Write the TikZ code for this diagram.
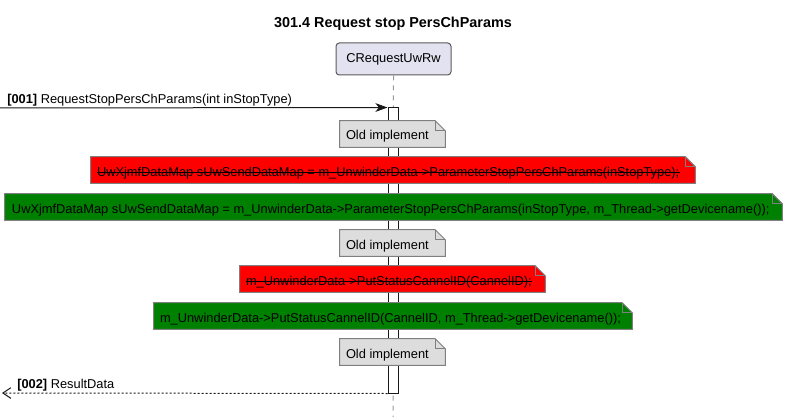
\documentclass[tikz,border=0pt]{standalone}
\usepackage{fontspec}
\setmainfont{Liberation Sans}
\usetikzlibrary{arrows.meta}
\definecolor{partfill}{HTML}{E2E2F0}
\definecolor{partbd}{HTML}{5A5A5A}
\definecolor{notegray}{HTML}{DDDDDD}
\definecolor{notebd}{HTML}{7F7F7F}
\definecolor{notered}{HTML}{FF0000}
\definecolor{notegreen}{HTML}{008000}
\definecolor{lifegray}{HTML}{9A9A9A}
\definecolor{ink}{HTML}{181818}
\newcommand{\noteoutline}[2]{%
  \filldraw[fill=#2, draw=notebd, line width=0.75pt]
    (#1.north west) -- ([xshift=-7.5pt]#1.north east) -- ([yshift=-7.5pt]#1.north east)
    -- (#1.south east) -- (#1.south west) -- cycle;
  \draw[draw=notebd, line width=0.75pt]
    ([xshift=-7.5pt]#1.north east) -- ([xshift=-7.5pt,yshift=-7.5pt]#1.north east)
    -- ([yshift=-7.5pt]#1.north east);
}
\newcommand{\strikeover}[1]{%
  \draw[black, line width=0.75pt] ([yshift=2.6pt]#1.base west) -- ([yshift=2.6pt]#1.base east);
}
\tikzset{
  notearea/.style={draw=none, fill=none, inner sep=0pt, minimum height=19.5pt},
  notetext/.style={inner sep=0pt, anchor=base west, text=black},
  msglabel/.style={inner sep=0pt, anchor=base west, text=black},
}
\begin{document}
\begin{tikzpicture}[x=0.75pt, y=-0.75pt, font=\fontsize{9.63pt}{11.6pt}\selectfont]
\useasboundingbox (0,0) rectangle (788,417);

% title
\node[inner sep=0pt, font=\fontsize{10.8pt}{13pt}\selectfont\bfseries] (title) at (393,24) {301.4 Request stop PersChParams};

% participant
\node[draw=partbd, fill=partfill, line width=0.75pt, rounded corners=2.5pt,
      minimum width=86.25pt, minimum height=24pt, inner sep=0pt] (part) at (393.5,59) {CRequestUwRw};
\coordinate (lifeend) at (393,417);
\draw[lifegray, line width=0.75pt, dash pattern=on 3.75pt off 3.75pt] (part.south) -- (lifeend);

% activation
\node[draw=ink, fill=white, line width=0.75pt, minimum width=7.5pt, minimum height=213.75pt, inner sep=0pt] (act) at (393,250.5) {};

% message 1
\coordinate (m1start) at (0,108);
\draw[ink, line width=0.75pt, -{Stealth[length=9pt, width=6.5pt, inset=2.5pt]}] (m1start) -- (act.north west);
\node[msglabel] (m1label) at (7,104) {\textbf{[001]} RequestStopPersChParams(int inStopType)};

% notes
\node[notearea, minimum width=78.75pt] (n1) at (392.5,134) {};
\noteoutline{n1}{notegray}
\node[notetext] (n1t) at ([xshift=4.5pt]n1.west |- 0,140) {Old implement};

\node[notearea, minimum width=453pt] (n2) at (393,170) {};
\noteoutline{n2}{notered}
\node[notetext] (n2t) at ([xshift=4.5pt]n2.west |- 0,176) {UwXjmfDataMap sUwSendDataMap = m\_UnwinderData->ParameterStopPersChParams(inStopType);};
\strikeover{n2t}

\node[notearea, minimum width=582.75pt] (n3) at (393.5,207) {};
\noteoutline{n3}{notegreen}
\node[notetext] (n3t) at ([xshift=5.25pt]n3.west |- 0,213) {UwXjmfDataMap sUwSendDataMap = m\_UnwinderData->ParameterStopPersChParams(inStopType, m\_Thread->getDevicename());};

\node[notearea, minimum width=78.75pt] (n4) at (392.5,243) {};
\noteoutline{n4}{notegray}
\node[notetext] (n4t) at ([xshift=4.5pt]n4.west |- 0,249) {Old implement};

\node[notearea, minimum width=228.75pt] (n5) at (392.5,279) {};
\noteoutline{n5}{notered}
\node[notetext] (n5t) at ([xshift=4.5pt]n5.west |- 0,285) {m\_UnwinderData->PutStatusCannelID(CannelID);};
\strikeover{n5t}

\node[notearea, minimum width=358.5pt] (n6) at (393,316) {};
\noteoutline{n6}{notegreen}
\node[notetext] (n6t) at ([xshift=4.5pt]n6.west |- 0,322) {m\_UnwinderData->PutStatusCannelID(CannelID, m\_Thread->getDevicename());};

\node[notearea, minimum width=78.75pt] (n7) at (392.5,352) {};
\noteoutline{n7}{notegray}
\node[notetext] (n7t) at ([xshift=4.5pt]n7.west |- 0,358) {Old implement};

% message 2
\coordinate (m2end) at (2,393);
\draw[ink, line width=0.75pt, dash pattern=on 1.5pt off 1.5pt, -{Straight Barb[length=6pt, width=8pt]}] (act.south west) -- (m2end);
\node[msglabel] (m2label) at (17,388) {\textbf{[002]} ResultData};
\end{tikzpicture}
\end{document}
